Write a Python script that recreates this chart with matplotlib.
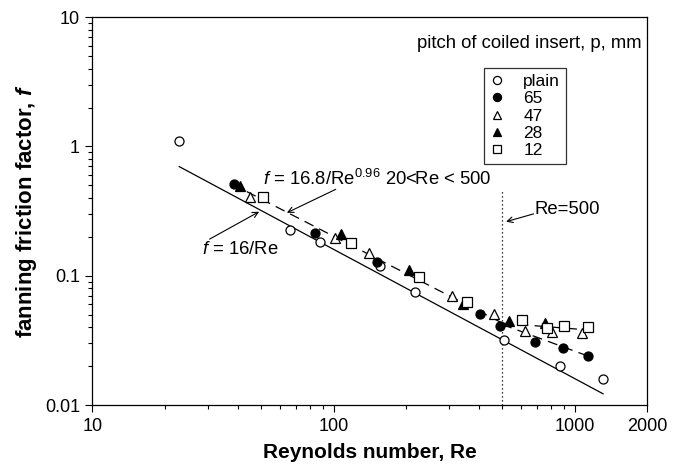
import matplotlib
matplotlib.use("Agg")
import matplotlib.pyplot as plt
from matplotlib.ticker import FixedLocator, NullFormatter, LogLocator
import numpy as np

plt.rcParams['font.family'] = ['Liberation Sans', 'DejaVu Sans']
plt.rcParams['mathtext.fontset'] = 'custom'
plt.rcParams['mathtext.rm'] = 'Liberation Sans'
plt.rcParams['mathtext.it'] = 'Liberation Sans:italic'
plt.rcParams['mathtext.bf'] = 'Liberation Sans:bold'
plt.rcParams['mathtext.bfit'] = 'Liberation Sans:italic:bold'

# ---- data ----
re_plain = [22.9, 65.9, 87.5, 156, 217, 511, 871, 1309]
f_plain = [1.11, 0.224, 0.182, 0.118, 0.0747, 0.0316, 0.0199, 0.0159]

re_65 = [38.7, 84, 151, 403, 491, 682, 891, 1140]
f_65 = [0.512, 0.214, 0.127, 0.0502, 0.0407, 0.0309, 0.0274, 0.0238]

re_47 = [44.9, 101, 140, 310, 464, 621, 801, 1076]
f_47 = [0.410, 0.196, 0.150, 0.0695, 0.0502, 0.0373, 0.0366, 0.0362]

re_28 = [41, 107, 206, 343, 533, 750]
f_28 = [0.491, 0.212, 0.110, 0.0607, 0.0446, 0.0428]

re_12 = [51, 118, 225, 359, 604, 766, 906, 1140]
f_12 = [0.410, 0.180, 0.098, 0.063, 0.0451, 0.0396, 0.0407, 0.0401]

# correlation lines
re_lam = [22.9, 1310]            # f = 16/Re
re_corr = [38.0, 500.0]          # f = 16.8/Re^0.96
re_d65 = [500, 1150]             # dashed continuation through p=65
f_d65 = [0.042, 0.0237]
re_dother = [500, 1150]          # dashed continuation through p=12,28,47
f_dother = [0.043, 0.038]
re_limit = 500
f_limit_top = 0.45

x_ticks = [10, 100, 1000, 2000]
x_ticklabels = ['10', '100', '1000', '2000']
y_ticks = [0.01, 0.1, 1, 10]
y_ticklabels = ['0.01', '0.1', '1', '10']

fig = plt.figure(figsize=(6.8, 4.65), dpi=100)
ax = fig.add_axes([0.136, 0.129, 0.816, 0.834])
ax.set_xscale('log')
ax.set_yscale('log')
ax.set_xlim(10, 2000)
ax.set_ylim(0.01, 10)

lw = 0.9
re_lam_a = np.array(re_lam, dtype=float)
ax.plot(re_lam_a, 16.0 / re_lam_a, color='black', lw=lw, zorder=2)
re_c = np.array(re_corr)
ax.plot(re_c, 16.8 / re_c ** 0.96, color='black', lw=lw, ls=(0, (8, 5)), zorder=2)
ax.plot(re_d65, f_d65, color='black', lw=lw, ls=(0, (8, 5)), zorder=2)
ax.plot(re_dother, f_dother, color='black', lw=lw, ls=(0, (8, 5)), zorder=2)
ax.plot([re_limit, re_limit], [0.01, f_limit_top], color='black', lw=0.9, ls=(0, (1, 2.2)), zorder=2)

ms = 6.5
mew = 0.9
ax.plot(re_plain, f_plain, ls='none', marker='o', ms=ms, mfc='white', mec='black', mew=mew, label='plain', zorder=3)
ax.plot(re_65, f_65, ls='none', marker='o', ms=ms, mfc='black', mec='black', mew=mew, label='65', zorder=3)
ax.plot(re_47, f_47, ls='none', marker='^', ms=ms + 0.5, mfc='white', mec='black', mew=mew, label='47', zorder=3)
ax.plot(re_28, f_28, ls='none', marker='^', ms=ms + 0.5, mfc='black', mec='black', mew=mew, label='28', zorder=3)
ax.plot(re_12, f_12, ls='none', marker='s', ms=ms, mfc='white', mec='black', mew=mew, label='12', zorder=3)

leg = ax.legend(loc='upper left', bbox_to_anchor=(0.706, 0.869), frameon=True, fancybox=False,
                edgecolor='black', fontsize=12.5, handlelength=0.8, handletextpad=1.1,
                labelspacing=0.12, borderpad=0.35, borderaxespad=0.0, markerscale=0.9)
leg.get_frame().set_linewidth(0.9)

# annotations
tfs = 13.3
ax.text(1900, 6.3, 'pitch of coiled insert, p, mm', ha='right', va='center', fontsize=tfs)
ax.text(51, 0.56, r'$\it{f}$ = 16.8/Re$^{0.96}$ 20<Re < 500', ha='left', va='center', fontsize=tfs)
ax.annotate('', xy=(64, 0.307), xytext=(102, 0.466),
            arrowprops=dict(arrowstyle='->', lw=0.8, color='black', shrinkA=0, shrinkB=0))
ax.text(28.4, 0.161, r'$\it{f}$ = 16/Re', ha='left', va='center', fontsize=tfs)
ax.annotate('', xy=(49.1, 0.313), xytext=(30.6, 0.192),
            arrowprops=dict(arrowstyle='->', lw=0.8, color='black', shrinkA=0, shrinkB=0))
ax.text(682, 0.327, 'Re=500', ha='left', va='center', fontsize=tfs)
ax.annotate('', xy=(519, 0.262), xytext=(675, 0.301),
            arrowprops=dict(arrowstyle='->', lw=0.8, color='black', shrinkA=0, shrinkB=0))

# ticks
ax.xaxis.set_major_locator(FixedLocator(x_ticks))
ax.set_xticklabels(x_ticklabels)
ax.xaxis.set_minor_locator(LogLocator(base=10, subs=np.arange(2, 10)))
ax.xaxis.set_minor_formatter(NullFormatter())
ax.yaxis.set_major_locator(FixedLocator(y_ticks))
ax.set_yticklabels(y_ticklabels)
ax.yaxis.set_minor_locator(LogLocator(base=10, subs=np.arange(2, 10)))
ax.yaxis.set_minor_formatter(NullFormatter())
ax.tick_params(which='both', direction='out', top=False, right=False, labelsize=13, width=0.8, color='black')
ax.tick_params(which='major', length=5, pad=4)
ax.tick_params(which='minor', length=3)
for s in ax.spines.values():
    s.set_linewidth(0.9)

ax.set_xlabel('Reynolds number, Re', fontsize=15, fontweight='bold', labelpad=6)
ax.set_ylabel(r'fanning friction factor, $\mathbfit{f}$', fontsize=16, fontweight='bold', labelpad=4)

fig.savefig('out.png', dpi=100)
